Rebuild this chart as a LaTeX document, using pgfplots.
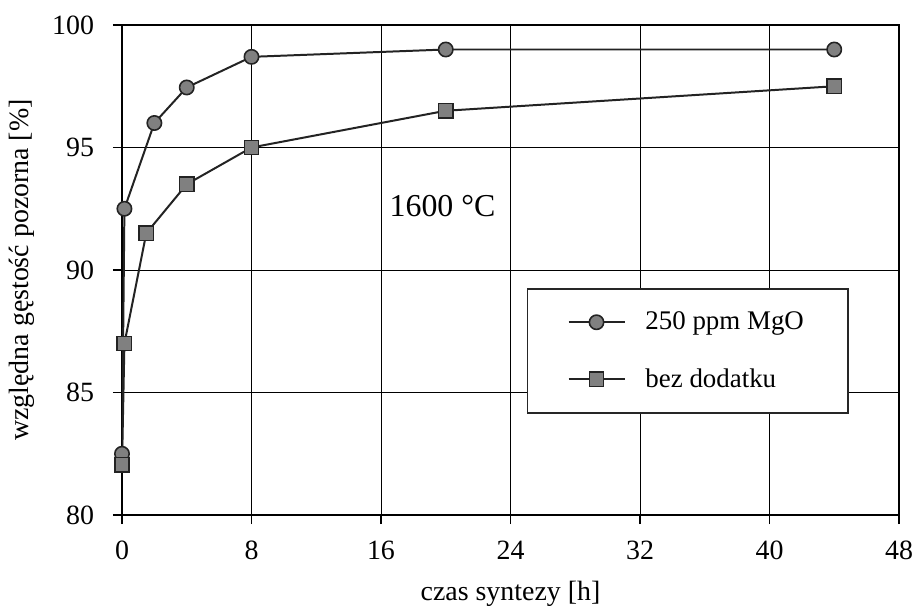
\documentclass[border=0pt]{standalone}
\usepackage{pgfplots}
\pgfplotsset{compat=1.18}
\usepackage{fontspec}
\setmainfont{Liberation Serif}
\definecolor{markgray}{RGB}{128,128,128}
\definecolor{linegray}{RGB}{35,35,35}
\begin{document}
\begin{tikzpicture}
\begin{axis}[
  scale only axis,
  width=388.5bp,
  height=245bp,
  xmin=0, xmax=48,
  ymin=80, ymax=100,
  xtick={0,8,...,48},
  ytick={80,85,...,100},
  grid=major,
  major grid style={black, line width=0.5pt},
  axis line style={black, line width=1.3pt},
  tick style={black, line width=0.8pt},
  tick align=outside,
  major tick length=4.5bp,
  xtick pos=bottom, ytick pos=left,
  tick label style={font=\fontsize{14}{16}\selectfont},
  xticklabel style={yshift=-5bp},
  yticklabel style={xshift=-6bp},
  /pgf/number format/assume math mode=true,
  xlabel={czas syntezy [h]},
  ylabel={względna gęstość pozorna [\%]},
  label style={font=\fontsize{14}{16}\selectfont},
  xlabel style={yshift=-4bp},
  ylabel style={yshift=2bp},
  legend style={
    at={(0.521,0.463)}, anchor=north west,
    draw=black!85, line width=0.7pt,
    font=\fontsize{13.5}{15}\selectfont,
    inner xsep=20bp, inner ysep=9.5bp,
    row sep=14pt,
    cells={anchor=west},
    /tikz/every odd column/.append style={column sep=8bp},
  },
  legend image code/.code={
    \draw[#1, mark repeat=2, mark phase=2] plot coordinates {(0bp,0bp) (14bp,0bp) (28bp,0bp)};
  },
]
\addplot[linegray, line width=1pt, mark=*, mark size=3.6pt,
  mark options={fill=markgray, draw=linegray, line width=0.8pt}]
  coordinates {(0,82.5) (0.15,92.5) (2,96) (4,97.45) (8,98.7) (20,99) (44,99)};
\addlegendentry{250 ppm MgO}
\addplot[linegray, line width=1pt, mark=square*, mark size=3.6pt,
  mark options={fill=markgray, draw=linegray, line width=0.8pt}]
  coordinates {(0,82.05) (0.15,87) (1.5,91.5) (4,93.5) (8,95) (20,96.5) (44,97.5)};
\addlegendentry{bez dodatku}
\node[font=\fontsize{16}{18}\selectfont] at (axis cs:19.8,92.6) {1600 °C};
\end{axis}
\pgfresetboundingbox
\path[use as bounding box] ([xshift=-61bp,yshift=-45.5bp]current axis.south west)
  rectangle ([xshift=8.5bp,yshift=12.5bp]current axis.north east);
\end{tikzpicture}
\end{document}
